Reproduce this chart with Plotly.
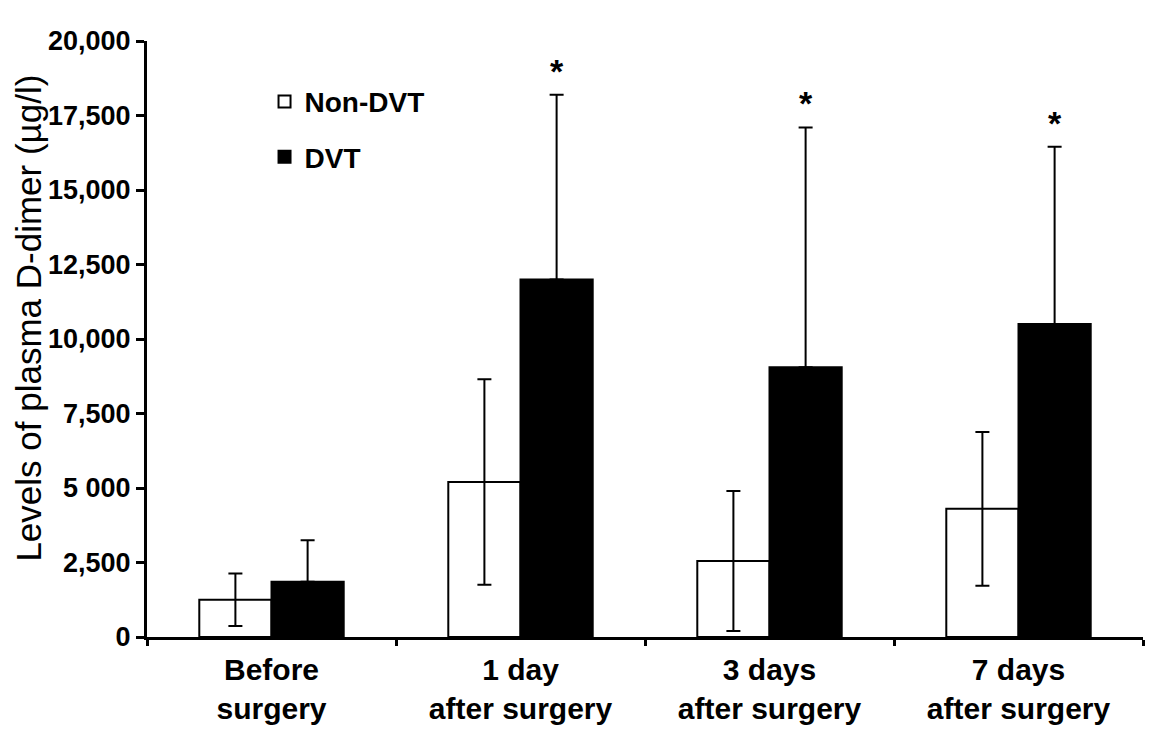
import plotly.graph_objects as go

# time points on the x axis
categories = ["Before<br>surgery", "1 day<br>after surgery", "3 days<br>after surgery", "7 days<br>after surgery"]

# mean plasma D-dimer (ug/l) and SD
non_dvt_mean = [1250, 5200, 2550, 4300]
non_dvt_sd = [880, 3450, 2350, 2580]
dvt_mean = [1850, 12000, 9050, 10500]
dvt_sd = [1400, 6200, 8050, 5950]

# significance markers over the DVT bars
stars = ["", "*", "*", "*"]

# y axis ticks
y_ticks = [0, 2500, 5000, 7500, 10000, 12500, 15000, 17500, 20000]
y_tick_labels = ["0", "2,500", "5 000", "7,500", "10,000", "12,500", "15,000", "17,500", "20,000"]

FONT = "Arial, Liberation Sans, sans-serif"

fig = go.Figure()

#Non-DVT: white bars with black outline, two-sided error bars
fig.add_trace(go.Bar(
    x=categories, y=non_dvt_mean, name="Non-DVT", legendgroup="a",
    marker=dict(color="white", line=dict(color="black", width=2)),
    error_y=dict(type="data", array=non_dvt_sd, symmetric=True,
                 color="black", thickness=2, width=7),
))

#DVT: black bars, upper error bar only
fig.add_trace(go.Bar(
    x=categories, y=dvt_mean, name="DVT", legendgroup="b",
    marker=dict(color="black", line=dict(color="black", width=2)),
    error_y=dict(type="data", array=dvt_sd, arrayminus=[0] * len(dvt_sd),
                 symmetric=False, color="black", thickness=2, width=7),
))

#Asterisks above the DVT error bars
for cat, m, s, st in zip(categories, dvt_mean, dvt_sd, stars):
    if st:
        fig.add_annotation(x=cat, y=m + s, text="<b>" + st + "</b>", showarrow=False,
                           xshift=36, yshift=24, yanchor="middle",
                           font=dict(family=FONT, size=34, color="black"))

#Y axis title as a rotated annotation so it sits clear of the tick labels
fig.add_annotation(xref="paper", yref="paper", x=-0.119, y=0.535,
                   text="Levels of plasma D-dimer (µg/l)", textangle=-90,
                   showarrow=False, xanchor="center", yanchor="middle",
                   font=dict(family=FONT, size=35, color="black"))

#page body adds an 8px offset, margins account for it
fig.update_layout(
    width=1157, height=756,
    margin=dict(l=139, r=22, t=33, b=127),
    plot_bgcolor="white", paper_bgcolor="white",
    barmode="group", bargap=0.42, bargroupgap=0,
    font=dict(family=FONT, color="black"),
    showlegend=True,
    legend=dict(x=0.118, y=0.94, xanchor="left", yanchor="top",
                font=dict(family=FONT, size=28, color="black", weight="bold"),
                tracegroupgap=16, bgcolor="rgba(0,0,0,0)"),
)

fig.update_xaxes(
    range=[-0.5, 3.5], showline=True, linecolor="black", linewidth=3,
    ticks="outside", tickson="boundaries", ticklen=6, tickwidth=3, tickcolor="black",
    tickfont=dict(family=FONT, size=30, color="black", weight="bold"),
    ticklabelstandoff=4,
    showgrid=False, zeroline=False, automargin=False,
)

fig.update_yaxes(
    range=[0, 20000], tickvals=y_ticks, ticktext=y_tick_labels,
    showline=True, linecolor="black", linewidth=3,
    ticks="outside", ticklen=8, tickwidth=3, tickcolor="black",
    tickfont=dict(family=FONT, size=27, color="black", weight="bold"),
    showgrid=False, zeroline=False, automargin=False,
)

fig.write_html("out.html")
